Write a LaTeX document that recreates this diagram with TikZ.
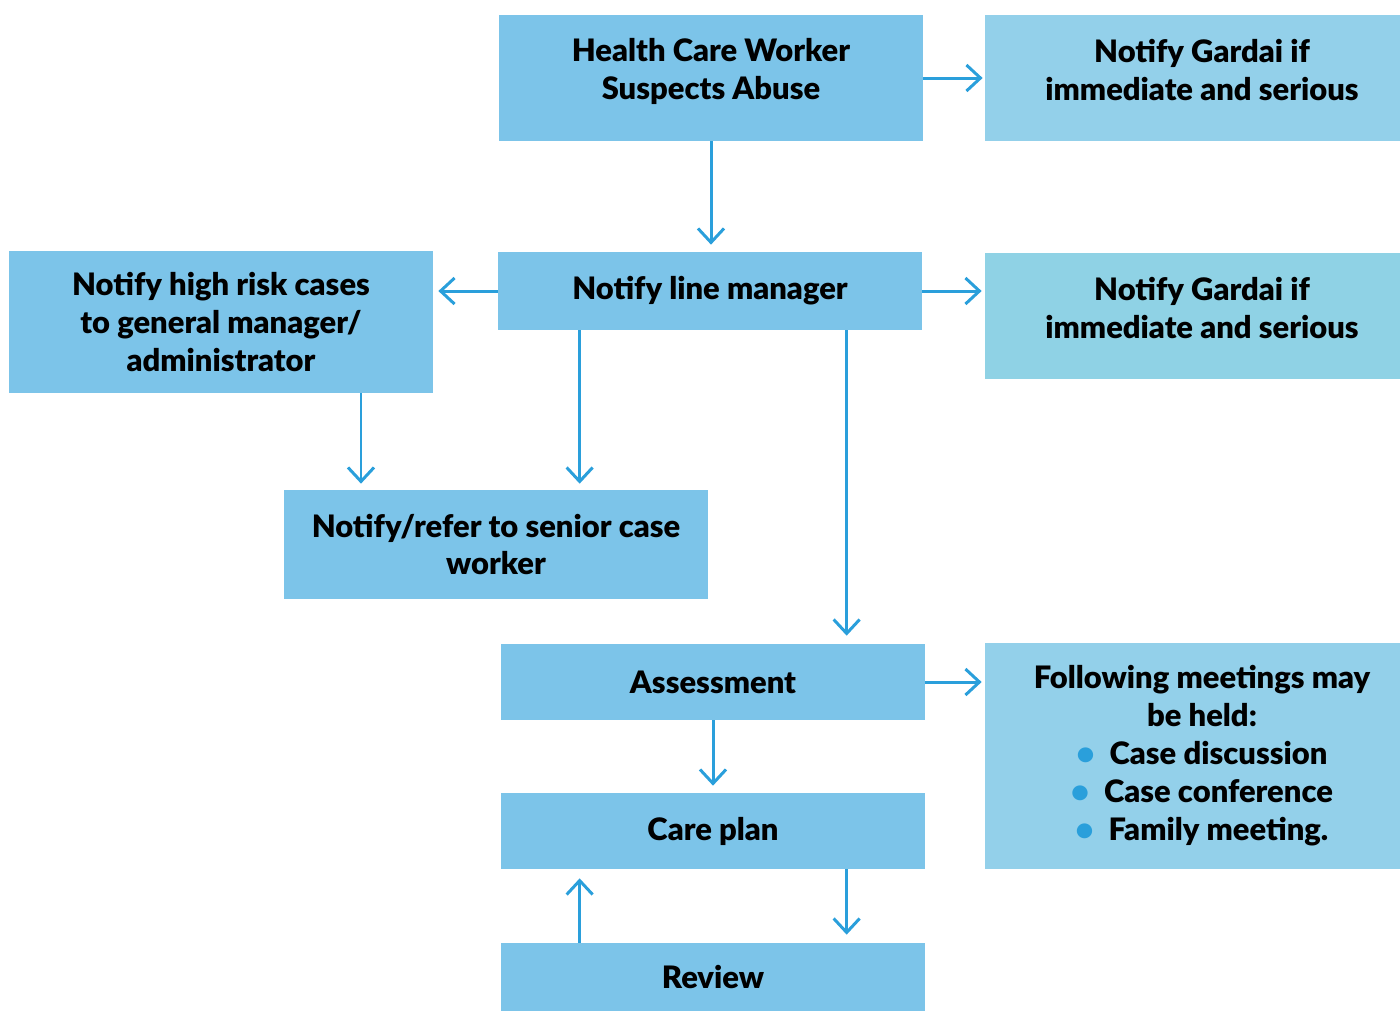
\documentclass[tikz,border=0pt]{standalone}
\usepackage{fontspec}
\setmainfont{Lato Black}
\usetikzlibrary{arrows.meta,calc}
\definecolor{boxblue}{HTML}{7CC4E9}
\definecolor{sideblue}{HTML}{93D0EA}
\definecolor{tealblue}{HTML}{8FD2E5}
\definecolor{linkblue}{HTML}{2A9FDB}
\begin{document}
\begin{tikzpicture}[x=0.02cm,y=-0.02cm,
  every node/.style={font=\fontsize{17.6}{21.6}\selectfont, align=center, inner sep=0pt, text=black},
  stage/.style={fill=boxblue, minimum width=424*0.02cm},
  side/.style={fill=sideblue, minimum width=434*0.02cm},
  link/.style={draw=linkblue, line width=1.7pt,
    -{Straight Barb[length=0.28cm, width=0.52cm, line width=1.7pt]}}]
\useasboundingbox (0,0) rectangle (1400,1012);

% boxes
\node[stage, minimum height=126*0.02cm] (hcw) at (711,78) {};
\node (hcw-t) at (711,71) {Health Care Worker\\Suspects Abuse};
\node[side, minimum height=126*0.02cm] (g1) at (1202,78) {};
\node (g1-t) at (1202,70) {Notify Gardai if\\immediate and serious};
\node[stage, minimum height=78*0.02cm] (lm) at (710,291) {Notify line manager};
\node[stage, minimum height=142*0.02cm] (hr) at (221,322) {Notify high risk cases\\to general manager/\\administrator};
\node[side, fill=tealblue, minimum height=126*0.02cm] (g2) at (1202,316) {};
\node (g2-t) at (1202,308) {Notify Gardai if\\immediate and serious};
\node[stage, minimum height=109*0.02cm] (sr) at (496,544.5) {Notify/refer to senior case\\worker};
\node[stage, minimum height=76*0.02cm] (as) at (713,682) {Assessment};
\node[side, minimum height=226*0.02cm] (fm) at (1202,756) {Following meetings may\\be held:\\
  {\color{linkblue}\textbullet}\hspace{0.3cm}Case discussion\\
  {\color{linkblue}\textbullet}\hspace{0.3cm}Case conference\\
  {\color{linkblue}\textbullet}\hspace{0.3cm}Family meeting.};
\node[stage, minimum height=76*0.02cm] (cp) at (713,831) {Care plan};
\node[stage, minimum height=68*0.02cm] (rv) at (713,977) {Review};

% connectors
\draw[link, shorten >=0.14cm] (hcw.south) -- (hcw.south |- lm.north);
\draw[link, shorten >=0.04cm] (hcw.east) -- (g1.west);
\draw[link, shorten >=0.1cm] (lm.west) -- (hr.east |- lm.west);
\draw[link, shorten >=0.06cm] (lm.east) -- (g2.west |- lm.east);
\coordinate (lmA) at ($(lm.south west)+(82,0)$);
\draw[link, shorten >=0.12cm] (lmA) -- (lmA |- sr.north);
\coordinate (hrA) at ($(hr.south)+(140,0)$);
\draw[link, shorten >=0.12cm] (hrA) -- (hrA |- sr.north);
\coordinate (lmB) at ($(lm.south west)+(349,0)$);
\draw[link, shorten >=0.16cm] (lmB) -- (lmB |- as.north);
\draw[link, shorten >=0.06cm] (as.east) -- (fm.west |- as.east);
\draw[link, shorten >=0.14cm] (as.south) -- (cp.north);
\coordinate (cpA) at ($(cp.south west)+(346,0)$);
\draw[link, shorten >=0.16cm] (cpA) -- (cpA |- rv.north);
\coordinate (rvA) at ($(rv.north west)+(79,0)$);
\draw[link, shorten >=0.18cm] (rvA) -- (rvA |- cp.south);
\end{tikzpicture}
\end{document}
